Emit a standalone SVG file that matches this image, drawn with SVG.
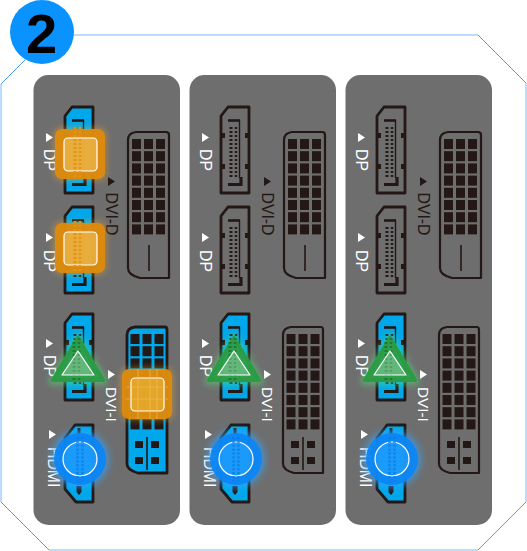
<svg xmlns="http://www.w3.org/2000/svg" width="527" height="551" viewBox="0 0 527 551">
<style>
.lb{font-family:"Liberation Sans",Arial,sans-serif;font-size:15.800px;fill:#fff}
.di{font-size:15.300px}
.dk{fill:#231815}
.ln{fill:none;stroke:#231815}
.port{stroke:#231815;stroke-width:2.800;stroke-linejoin:round}
.thin{stroke-width:2.200}
.bl{fill:#00a7ea}
.no{fill:none}
.in{stroke:#fff;stroke-width:1.200}
</style>
<defs>
<filter id="gl" x="-40%" y="-40%" width="180%" height="180%"><feGaussianBlur stdDeviation="3.500"/></filter>
<g id="comb">
<path d="M11 21V73" fill="none" stroke-width="3" stroke-dasharray="1.900 2.100"/>
<path d="M16 21V73" fill="none" stroke-width="2.400" stroke-dasharray="1.900 2.100"/>
</g>
<g id="dpin">
<use href="#comb" stroke="#231815"/>
<path class="ln" stroke-width="2.600" d="M8 14.500H20"/>
<path class="ln" stroke-width="1.400" d="M19.500 14V72"/>
<path class="ln" stroke-width="3.200" d="M8 78.500H21V71"/>
<path class="dk" d="M1 27h4v5H1zM25 27h4v5h-4zM1 58h4v5H1zM25 58h4v5h-4z"/>
</g>
<path id="dps" d="M8 1H29V87H1V10Z"/>
<g id="hin">
<path d="M15 14V60" fill="none" stroke="#231815" stroke-width="5" stroke-dasharray="2 1.600"/>
<path class="dk" d="M13.500 4h3v6h-3zM12.500 62h5v6l-2.500 3-2.500-3z"/>
</g>
<path id="hs" d="M11 1H29V78H12L1 65V14Z"/>
<path id="tri" d="M0 0V9L7 4.500Z" fill="#fff"/>
<path id="trid" d="M0 0V9L7 4.500Z" fill="#231815"/>
<g id="grid" class="dk">
<rect x="0" y="0" width="9" height="10"/><rect x="12" y="0" width="9" height="10"/><rect x="24" y="0" width="9" height="10"/>
<rect x="0" y="12.200" width="9" height="10"/><rect x="12" y="12.200" width="9" height="10"/><rect x="24" y="12.200" width="9" height="10"/>
<rect x="0" y="24.400" width="9" height="10"/><rect x="12" y="24.400" width="9" height="10"/><rect x="24" y="24.400" width="9" height="10"/>
<rect x="0" y="36.600" width="9" height="10"/><rect x="12" y="36.600" width="9" height="10"/><rect x="24" y="36.600" width="9" height="10"/>
<rect x="0" y="48.800" width="9" height="10"/><rect x="12" y="48.800" width="9" height="10"/><rect x="24" y="48.800" width="9" height="10"/>
<rect x="0" y="61" width="9" height="10"/><rect x="12" y="61" width="9" height="10"/><rect x="24" y="61" width="9" height="10"/>
<rect x="0" y="73.200" width="9" height="10"/><rect x="12" y="73.200" width="9" height="10"/><rect x="24" y="73.200" width="9" height="10"/>
<rect x="0" y="85.400" width="9" height="10"/><rect x="12" y="85.400" width="9" height="10"/><rect x="24" y="85.400" width="9" height="10"/>
</g>
<g id="dvid">
<path class="port thin no" d="M1 10Q1 3 9 2H39Q42 2 42 5V148H13Q1 145 1 138Z"/>
<use href="#grid" x="5" y="9"/>
<path d="M22 115V141" stroke="#231815" stroke-width="1.600"/>
</g>
<path id="dvis" d="M1 9Q1 2 9 1H39Q41 1 41 4V147H12Q1 144 1 138Z"/>
<g id="dviin">
<use href="#grid" x="4.500" y="8"/>
<path class="dk" d="M9 115h8v7H9zM25 115h8v7h-8zM9 131h8v7H9zM25 131h8v7h-8z"/>
<path d="M21 111V144" stroke="#231815" stroke-width="1.600"/>
</g>
<g id="sqb">
<rect x="-1" y="-1" width="52" height="52" rx="8" fill="#ffb020" opacity=".45" filter="url(#gl)"/>
<rect x="0" y="0" width="50" height="50" rx="7" fill="#dd8a0e" fill-opacity=".96"/>
</g>
<g id="sqdp">
<use href="#sqb"/>
<rect class="in" x="9" y="9" width="33" height="33" rx="4" fill="#f4c860" fill-opacity=".55"/>
<use href="#comb" x="9" y="-23" stroke="#e8930f"/>
</g>
<g id="sqdv">
<use href="#sqb"/>
<rect class="in" x="9" y="9" width="33" height="33" rx="4" fill="#f0c040" fill-opacity=".5"/>
<path d="M16 0V50M28 0V50M35 0V50M4 18H46M4 30H46" fill="none" stroke="#f2c060" stroke-width="1.200" opacity=".55"/>
</g>
<g id="gtri">
<path d="M27 2L54 48H0Z" fill="#5be07c" opacity=".55" stroke="#5be07c" stroke-width="5" stroke-linejoin="round" filter="url(#gl)"/>
<path d="M27 4L52 46H2Z" fill="#2b9c45" fill-opacity=".92" stroke="#2b9c45" stroke-width="4" stroke-linejoin="round"/>
<path d="M23 8V48" stroke="#1e7a34" stroke-width="3" stroke-dasharray="1.900 2.100" fill="none"/>
<path d="M28 4V48" stroke="#1e7a34" stroke-width="2.400" stroke-dasharray="1.900 2.100" fill="none"/>
<path class="in" d="M27 17L43 41H11Z" fill="#fff" fill-opacity=".26" stroke-linejoin="round"/>
</g>
<g id="cir">
<circle r="29" fill="#36a6ff" opacity=".65" filter="url(#gl)"/>
<circle r="26" fill="#0a86f5" fill-opacity=".92"/>
<circle class="in" r="17" fill="#2cb2ff" fill-opacity=".45"/>
<path d="M-2.500 -22V22M2.500 -22V22" stroke="#0a78e4" stroke-width="2.600" stroke-dasharray="2 1.900" fill="none" opacity=".7"/>
</g>
</defs>
<g id="frame" fill="none">
<path d="M1 84V502M73 35H478M526 83V502M49 550H478" stroke="#bcdcff" stroke-width="2"/>
<path d="M25 60L1 84M478 35L526 83M526 502L478 550M1 502L49 550" stroke="#4a9cf5" stroke-width="1"/>
</g>
<g id="badge">
<circle cx="42" cy="32" r="32" fill="#0a93ff"/>
<text x="41.500" y="52.500" text-anchor="middle" style="font-family:'Liberation Sans',Arial,sans-serif;font-size:56px;font-weight:700;fill:#000">2</text>
</g>
<g id="panel1">
<rect x="33.500" y="75" width="146.500" height="450" rx="15" fill="#6e6e6e"/>
<g id="p1-dp1" transform="translate(64 106)"><use href="#dps" class="port bl"/><use href="#dpin"/></g>
<g id="p1-dp2" transform="translate(64 206)"><use href="#dps" class="port bl"/><use href="#dpin"/></g>
<g id="p1-dp3" transform="translate(64 313)"><use href="#dps" class="port bl"/><use href="#dpin"/></g>
<g id="p1-hdmi" transform="translate(64 424)"><use href="#hs" class="port bl"/><use href="#hin"/></g>
<g id="p1-dvid" transform="translate(127 130)"><use href="#dvid"/></g>
<g id="p1-dvii" transform="translate(126 326)"><use href="#dvis" class="port bl"/><use href="#dviin"/></g>
<use href="#tri" x="46" y="133"/><text class="lb" transform="translate(44 149) rotate(90)">DP</text>
<use href="#tri" x="46" y="233"/><text class="lb" transform="translate(44 250) rotate(90)">DP</text>
<use href="#tri" x="46" y="339"/><text class="lb" transform="translate(44 355) rotate(90)">DP</text>
<use href="#tri" x="49" y="430"/><text class="lb" transform="translate(48 447) rotate(90)">HDMI</text>
<use href="#trid" x="108" y="177"/><text class="lb" style="fill:#231815" transform="translate(106 192.500) rotate(90)">DVI-D</text>
<use href="#tri" x="108" y="370"/><text class="lb di" transform="translate(106 387) rotate(90)">DVI-I</text>
<use href="#sqdp" x="55" y="129"/><use href="#sqdp" x="55" y="223"/><use href="#sqdv" x="122" y="369"/>
<use href="#gtri" x="51" y="334"/><use href="#cir" x="80" y="459"/>
</g>
<g id="panel2">
<rect x="189.500" y="75" width="146.500" height="450" rx="15" fill="#6e6e6e"/>
<g id="p2-dp1" transform="translate(220 106)"><use href="#dps" class="port no"/><use href="#dpin"/></g>
<g id="p2-dp2" transform="translate(220 206)"><use href="#dps" class="port no"/><use href="#dpin"/></g>
<g id="p2-dp3" transform="translate(220 313)"><use href="#dps" class="port bl"/><use href="#dpin"/></g>
<g id="p2-hdmi" transform="translate(220 424)"><use href="#hs" class="port bl"/><use href="#hin"/></g>
<g id="p2-dvid" transform="translate(283 130)"><use href="#dvid"/></g>
<g id="p2-dvii" transform="translate(282 326)"><use href="#dvis" class="port thin no"/><use href="#dviin"/></g>
<use href="#tri" x="202" y="133"/><text class="lb" transform="translate(200 149) rotate(90)">DP</text>
<use href="#tri" x="202" y="233"/><text class="lb" transform="translate(200 250) rotate(90)">DP</text>
<use href="#tri" x="202" y="339"/><text class="lb" transform="translate(200 355) rotate(90)">DP</text>
<use href="#tri" x="205" y="430"/><text class="lb" transform="translate(204 447) rotate(90)">HDMI</text>
<use href="#trid" x="264" y="177"/><text class="lb" style="fill:#231815" transform="translate(262 192.500) rotate(90)">DVI-D</text>
<use href="#tri" x="264" y="370"/><text class="lb di" transform="translate(262 387) rotate(90)">DVI-I</text>
<use href="#gtri" x="207" y="334"/><use href="#cir" x="236" y="459"/>
</g>
<g id="panel3">
<rect x="345.500" y="75" width="146.500" height="450" rx="15" fill="#6e6e6e"/>
<g id="p3-dp1" transform="translate(376 106)"><use href="#dps" class="port no"/><use href="#dpin"/></g>
<g id="p3-dp2" transform="translate(376 206)"><use href="#dps" class="port no"/><use href="#dpin"/></g>
<g id="p3-dp3" transform="translate(376 313)"><use href="#dps" class="port bl"/><use href="#dpin"/></g>
<g id="p3-hdmi" transform="translate(376 424)"><use href="#hs" class="port bl"/><use href="#hin"/></g>
<g id="p3-dvid" transform="translate(439 130)"><use href="#dvid"/></g>
<g id="p3-dvii" transform="translate(438 326)"><use href="#dvis" class="port thin no"/><use href="#dviin"/></g>
<use href="#tri" x="358" y="133"/><text class="lb" transform="translate(356 149) rotate(90)">DP</text>
<use href="#tri" x="358" y="233"/><text class="lb" transform="translate(356 250) rotate(90)">DP</text>
<use href="#tri" x="358" y="339"/><text class="lb" transform="translate(356 355) rotate(90)">DP</text>
<use href="#tri" x="361" y="430"/><text class="lb" transform="translate(360 447) rotate(90)">HDMI</text>
<use href="#trid" x="420" y="177"/><text class="lb" style="fill:#231815" transform="translate(418 192.500) rotate(90)">DVI-D</text>
<use href="#tri" x="420" y="370"/><text class="lb di" transform="translate(418 387) rotate(90)">DVI-I</text>
<use href="#gtri" x="363" y="334"/><use href="#cir" x="392" y="459"/>
</g>
</svg>
